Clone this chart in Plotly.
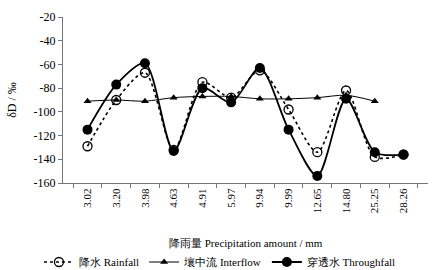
import plotly.graph_objects as go

categories = ["3.02", "3.20", "3.98", "4.63", "4.91", "5.97", "9.94", "9.99", "12.65", "14.80", "25.25", "28.26"]
rainfall = [-129, -90, -67, -132, -75, -88, -65, -98, -134, -82, -138, -136]
interflow = [-91, -90, -91, -88, -87, -87, -89, -89, -88, -86, -91, None]
throughfall = [-115, -77, -59, -133, -80, -92, -63, -115, -154, -89, -134, -136]
y_ticks = [-20, -40, -60, -80, -100, -120, -140, -160]

font = "Liberation Serif, Times New Roman, serif"

fig = go.Figure()
fig.add_trace(go.Scatter(
    x=categories, y=rainfall, name="降水 Rainfall", mode="lines+markers",
    line=dict(color="black", width=1.6, dash="dot", shape="spline", smoothing=0.8),
    marker=dict(symbol="circle-open", size=9, color="black", line=dict(width=1.3))))
fig.add_trace(go.Scatter(
    x=categories, y=interflow, name="壤中流 Interflow", mode="lines+markers",
    line=dict(color="black", width=1, shape="spline", smoothing=0.8),
    marker=dict(symbol="triangle-up", size=7, color="black")))
fig.add_trace(go.Scatter(
    x=categories, y=throughfall, name="穿透水 Throughfall", mode="lines+markers",
    line=dict(color="black", width=1.8, shape="spline", smoothing=0.8),
    marker=dict(symbol="circle", size=10, color="black")))

fig.update_layout(
    width=437, height=270,
    margin=dict(l=63, r=9, t=17, b=87, autoexpand=False),
    paper_bgcolor="white", plot_bgcolor="white",
    font=dict(family=font, size=11, color="black"),
    showlegend=True,
    legend=dict(orientation="h", x=0.43, xanchor="center", y=-0.476, yanchor="middle",
                font=dict(size=11), itemwidth=30, tracegroupgap=0, bgcolor="rgba(0,0,0,0)"),
    xaxis=dict(type="category", tickangle=-90, showline=True, linecolor="#777", linewidth=1,
               ticks="outside", tickson="boundaries", ticklen=4, tickcolor="#777",
               showgrid=False, zeroline=False, automargin=False,
               tickfont=dict(size=11)),
    yaxis=dict(range=[-160, -20], tickvals=y_ticks, ticktext=[str(v) for v in y_ticks],
               showline=True, linecolor="#777", linewidth=1,
               ticks="outside", ticklen=4, tickcolor="#777", showgrid=False, zeroline=False,
               automargin=False, tickfont=dict(size=12),
               title=dict(text="δD / ‰", font=dict(size=12), standoff=14)),
    annotations=[dict(text="降雨量 Precipitation amount / mm", xref="paper", yref="paper",
                      x=0.5, y=-0.36, xanchor="center", yanchor="middle", showarrow=False,
                      font=dict(size=11))],
)

fig.write_html("out.html", config={"displayModeBar": False},
               post_script="document.body.style.margin='0';document.body.style.overflow='hidden';")
